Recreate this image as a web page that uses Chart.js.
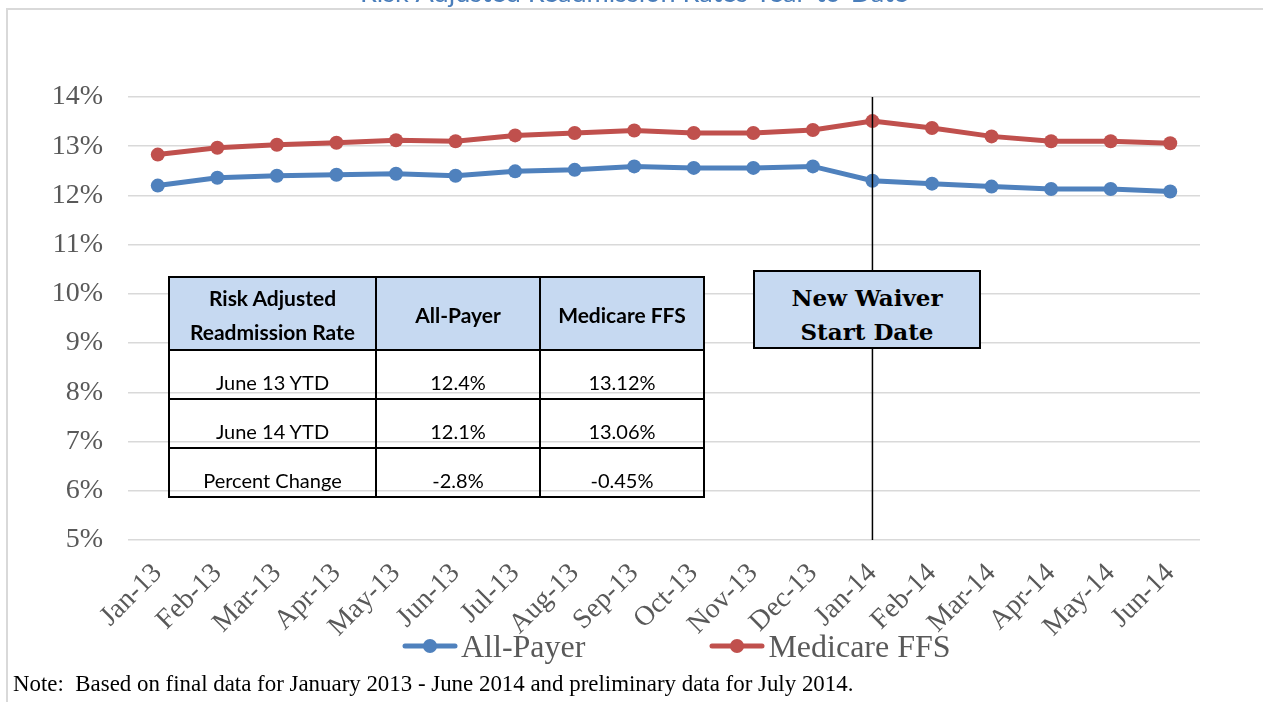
<!DOCTYPE html>
<html>
<head>
<meta charset="utf-8">
<script src="https://cdn.jsdelivr.net/npm/chart.js@4.4.1/dist/chart.umd.min.js"></script>
<style>
  html, body { margin: 0; padding: 0; background: #fff; }
  #wrap { position: relative; width: 1263px; height: 702px; overflow: hidden; }
  #c { position: absolute; left: 0; top: 0; }
  #tbl { position: absolute; left: 168px; top: 276px; border-collapse: collapse; font-family: Lato, "Open Sans", sans-serif; font-size: 20px; color: #000; }
  #tbl td { border: 2px solid #000; text-align: center; padding: 0; box-sizing: border-box; }
  #tbl tr.h td { background: #c6d9f1; font-weight: bold; font-size: 21px; height: 71px; line-height: 34px; vertical-align: middle; padding-top: 3px; }
  #tbl tr.b td { height: 49px; line-height: 24px; vertical-align: bottom; padding-bottom: 4px; }
  #waiver { position: absolute; left: 753px; top: 270px; width: 228px; height: 79px; box-sizing: border-box; background: #c6d9f1; border: 2px solid #000; font-family: "DejaVu Serif", serif; font-weight: bold; font-size: 23px; line-height: 34px; text-align: center; padding-top: 9px; color: #000; }
  #legend { position: absolute; left: 402px; top: 626px; height: 40px; display: flex; align-items: center; font-family: "Liberation Serif", serif; font-size: 32px; color: #595959; }
  #legend .it { display: flex; align-items: center; }
  #legend canvas { display: block; margin-right: 3px; }
  #note { position: absolute; left: 13px; top: 671px; font-family: "Liberation Serif", serif; font-size: 22.9px; line-height: 26px; color: #000; white-space: nowrap; }
</style>
</head>
<body>
<div id="wrap">
  <canvas id="c" width="1263" height="702"></canvas>
  <table id="tbl">
    <tr class="h"><td style="width:207px">Risk Adjusted<br>Readmission Rate</td><td style="width:164px">All-Payer</td><td style="width:164px">Medicare FFS</td></tr>
    <tr class="b"><td>June 13 YTD</td><td>12.4%</td><td>13.12%</td></tr>
    <tr class="b"><td>June 14 YTD</td><td>12.1%</td><td>13.06%</td></tr>
    <tr class="b"><td>Percent Change</td><td>-2.8%</td><td>-0.45%</td></tr>
  </table>
  <div id="waiver">New Waiver<br>Start Date</div>
  <div id="legend"></div>
  <div id="note">Note:&nbsp; Based on final data for January 2013 - June 2014 and preliminary data for July 2014.</div>
</div>
<script>
const categories = ["Jan-13","Feb-13","Mar-13","Apr-13","May-13","Jun-13","Jul-13","Aug-13","Sep-13","Oct-13","Nov-13","Dec-13","Jan-14","Feb-14","Mar-14","Apr-14","May-14","Jun-14"];
const allPayer = [12.20,12.36,12.40,12.42,12.44,12.40,12.49,12.52,12.59,12.56,12.56,12.59,12.30,12.24,12.18,12.13,12.13,12.08];
const medicareFFS = [12.83,12.97,13.03,13.07,13.12,13.10,13.22,13.27,13.32,13.27,13.27,13.33,13.51,13.37,13.20,13.10,13.10,13.06];
const yTicks = [5,6,7,8,9,10,11,12,13,14];
const waiverMonth = "Jan-14";
const titleText = "Risk Adjusted Readmission Rates Year-to-Date";

const BLUE = "#4f81bd", RED = "#c0504d";

const decor = {
  id: "decor",
  beforeDraw(chart) {
    const ctx = chart.ctx;
    ctx.save();
    ctx.fillStyle = "#fff";
    ctx.fillRect(0, 0, chart.width, chart.height);
    ctx.strokeStyle = "#d9d9d9";
    ctx.lineWidth = 2;
    ctx.beginPath();
    ctx.moveTo(7, chart.height);
    ctx.lineTo(7, 9);
    ctx.lineTo(chart.width, 9);
    ctx.stroke();
    ctx.fillStyle = "#4a7ebb";
    ctx.font = "27px Lato";
    ctx.textAlign = "center";
    ctx.textBaseline = "alphabetic";
    ctx.fillText(titleText, 634, 2);
    ctx.restore();
  },
  afterDatasetsDraw(chart) {
    const ctx = chart.ctx;
    const x = chart.scales.x.getPixelForValue(categories.indexOf(waiverMonth));
    const a = chart.chartArea;
    ctx.save();
    ctx.strokeStyle = "#000";
    ctx.lineWidth = 1.5;
    ctx.beginPath();
    ctx.moveTo(x, a.top);
    ctx.lineTo(x, a.bottom);
    ctx.stroke();
    ctx.restore();
  }
};

const chart = new Chart(document.getElementById("c"), {
  type: "line",
  data: {
    labels: categories,
    datasets: [
      { label: "All-Payer", data: allPayer, borderColor: BLUE, backgroundColor: BLUE, borderWidth: 5, pointRadius: 7, pointHoverRadius: 7, pointBorderWidth: 0, tension: 0 },
      { label: "Medicare FFS", data: medicareFFS, borderColor: RED, backgroundColor: RED, borderWidth: 5, pointRadius: 7, pointHoverRadius: 7, pointBorderWidth: 0, tension: 0 }
    ]
  },
  options: {
    responsive: false,
    animation: false,
    devicePixelRatio: 1,
    layout: { padding: { left: 0, top: 97, right: 63, bottom: 0 } },
    plugins: { legend: { display: false }, title: { display: false }, tooltip: { enabled: false } },
    scales: {
      x: {
        type: "category",
        offset: true,
        grid: { display: false, drawTicks: false },
        border: { display: false },
        ticks: { autoSkip: false, maxRotation: 45, minRotation: 45, color: "#595959", font: { family: "Liberation Serif", size: 28 }, padding: 17 },
        afterFit(s) { s.height = 162; }
      },
      y: {
        min: 5, max: 14,
        grid: { color: "#d9d9d9", lineWidth: 1.5, drawTicks: false },
        border: { display: false },
        afterBuildTicks(s) { s.ticks = yTicks.map(v => ({ value: v })); },
        ticks: { color: "#595959", font: { family: "Liberation Serif", size: 28 }, padding: 25, callback: v => v + "%" },
        afterFit(s) { s.width = 128; }
      }
    }
  },
  plugins: [decor]
});

// legend built from datasets
const lg = document.getElementById("legend");
chart.data.datasets.forEach((ds, i) => {
  const it = document.createElement("div");
  it.className = "it";
  if (i > 0) it.style.marginLeft = "124px";
  const cv = document.createElement("canvas");
  cv.width = 56; cv.height = 16;
  const g = cv.getContext("2d");
  g.strokeStyle = ds.borderColor; g.lineWidth = 5; g.lineCap = "round";
  g.beginPath(); g.moveTo(3, 8); g.lineTo(53, 8); g.stroke();
  g.fillStyle = ds.backgroundColor;
  g.beginPath(); g.arc(28, 8, 7, 0, Math.PI * 2); g.fill();
  const sp = document.createElement("span");
  sp.textContent = ds.label;
  it.appendChild(cv); it.appendChild(sp);
  lg.appendChild(it);
});
</script>
</body>
</html>
